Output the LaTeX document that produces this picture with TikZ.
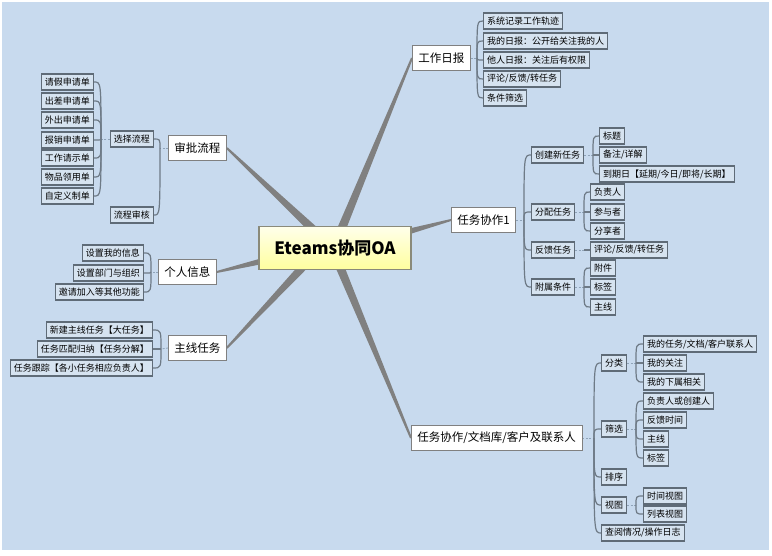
\documentclass[tikz,border=0pt]{standalone}
\usepackage{fontspec}
\setmainfont{Noto Sans CJK SC}
\usetikzlibrary{calc}
\definecolor{bgblue}{HTML}{C8DAEE}
\definecolor{leaffill}{HTML}{D6E3F0}
\definecolor{leafdraw}{HTML}{5F6B77}
\definecolor{brdraw}{HTML}{808080}
\definecolor{taperc}{HTML}{808080}
\definecolor{linkc}{HTML}{6E7A86}
\definecolor{dashc}{HTML}{8FA3B8}
\definecolor{rootdraw}{HTML}{8A8A7A}
\pgfdeclarelayer{bglayer}
\pgfsetlayers{bglayer,main}
\newcommand\mmtaper[2]{\fill[taperc] ($(#1)!4.5pt!90:(#2)$) -- ($(#2)!1pt!-90:(#1)$) -- ($(#2)!1pt!90:(#1)$) -- ($(#1)!4.5pt!-90:(#2)$) -- cycle;}
\tikzset{
  leaf/.style={draw=leafdraw, line width=1.1pt, fill=leaffill, font=\fontsize{9}{10}\selectfont, inner xsep=3.5pt, inner ysep=0pt, minimum height=16pt},
  lleaf/.style={leaf, anchor=east},
  rleaf/.style={leaf, anchor=west},
  branch/.style={draw=brdraw, line width=0.8pt, fill=white, font=\fontsize{11.5}{13}\selectfont, inner xsep=6pt, inner ysep=0pt, minimum height=25pt},
  rootbox/.style={draw=rootdraw, line width=1.1pt, top color=yellow!8!white, bottom color=yellow!38!white, font=\bfseries\fontsize{17}{20}\selectfont, minimum width=152pt, minimum height=43pt},
  dashlink/.style={draw=dashc, line width=0.8pt, dash pattern=on 2pt off 1.5pt},
  brlink/.style={draw=linkc, line width=1.2pt}
}
\begin{document}
\begin{tikzpicture}[x=1pt,y=-1pt]
\useasboundingbox (0,0) rectangle (772,555);
% root and main branches
\node[rootbox] (root) at (335,248) {Eteams协同OA};
\node[branch, anchor=west] (sp) at (168,148) {审批流程};
\node[branch, anchor=west] (gr) at (158,272) {个人信息};
\node[branch, anchor=west] (zx) at (168,348) {主线任务};
\node[branch, anchor=west] (rb) at (412,58) {工作日报};
\node[branch, anchor=west] (xz) at (451,220) {任务协作1};
\node[branch, anchor=west] (wd) at (411,438) {任务协作/文档库/客户及联系人};
% 审批流程
\node[lleaf] (xl) at (154,139) {选择流程};
\node[lleaf] (sh) at (154,215) {流程审核};
\node[lleaf] (a1) at (94,82) {请假申请单};
\node[lleaf] (a2) at (94,101) {出差申请单};
\node[lleaf] (a3) at (94,120) {外出申请单};
\node[lleaf] (a4) at (94,140) {报销申请单};
\node[lleaf] (a5) at (94,158) {工作请示单};
\node[lleaf] (a6) at (94,177) {物品领用单};
\node[lleaf] (a7) at (94,196) {自定义制单};
% 个人信息
\node[lleaf] (g1) at (144,253) {设置我的信息};
\node[lleaf] (g2) at (144,273) {设置部门与组织};
\node[lleaf] (g3) at (144,292) {邀请加入等其他功能};
% 主线任务
\node[lleaf] (z1) at (153,330) {新建主线任务【大任务】};
\node[lleaf] (z2) at (153,349) {任务匹配归纳【任务分解】};
\node[lleaf] (z3) at (153,368) {任务跟踪【各小任务相应负责人】};
% 工作日报
\node[rleaf] (r1) at (483,21) {系统记录工作轨迹};
\node[rleaf] (r2) at (483,41) {我的日报：公开给关注我的人};
\node[rleaf] (r3) at (483,60) {他人日报：关注后有权限};
\node[rleaf] (r4) at (483,79) {评论/反馈/转任务};
\node[rleaf] (r5) at (483,98) {条件筛选};
% 任务协作1
\node[rleaf] (x1) at (531,155) {创建新任务};
\node[rleaf] (x2) at (531,212) {分配任务};
\node[rleaf] (x3) at (531,250) {反馈任务};
\node[rleaf] (x4) at (531,287) {附属条件};
\node[rleaf] (c1) at (599,136) {标题};
\node[rleaf] (c2) at (599,155) {备注/详解};
\node[rleaf] (c3) at (599,174) {到期日【延期/今日/即将/长期】};
\node[rleaf] (f1) at (590,192) {负责人};
\node[rleaf] (f2) at (590,212) {参与者};
\node[rleaf] (f3) at (590,231) {分享者};
\node[rleaf] (k1) at (590,250) {评论/反馈/转任务};
\node[rleaf] (m1) at (590,268) {附件};
\node[rleaf] (m2) at (590,287) {标签};
\node[rleaf] (m3) at (590,307) {主线};
% 任务协作/文档库
\node[rleaf] (w1) at (601,363) {分类};
\node[rleaf] (w2) at (601,429) {筛选};
\node[rleaf] (w3) at (601,477) {排序};
\node[rleaf] (w4) at (601,505) {视图};
\node[rleaf] (w5) at (601,533) {查阅情况/操作日志};
\node[rleaf] (p1) at (643,344) {我的任务/文档/客户联系人};
\node[rleaf] (p2) at (643,363) {我的关注};
\node[rleaf] (p3) at (643,382) {我的下属相关};
\node[rleaf] (s1) at (643,401) {负责人或创建人};
\node[rleaf] (s2) at (643,420) {反馈时间};
\node[rleaf] (s3) at (643,439) {主线};
\node[rleaf] (s4) at (643,458) {标签};
\node[rleaf] (v1) at (643,496) {时间视图};
\node[rleaf] (v2) at (643,514) {列表视图};
% junctions and taper origins
\coordinate (jsp) at (160,148);
\coordinate (jxl) at (101,139);
\coordinate (jgr) at (151,272);
\coordinate (jzx) at (161,349);
\coordinate (jrb) at (477,58);
\coordinate (jxz) at (524,220);
\coordinate (jx1) at (593,155);
\coordinate (jx2) at (584,212);
\coordinate (jx3) at (584,250);
\coordinate (jx4) at (584,287);
\coordinate (jwd) at (594,438);
\coordinate (jw1) at (636,363);
\coordinate (jw2) at (636,429);
\coordinate (jw4) at (636,505);
\coordinate (osp) at (320,236);
\coordinate (ogr) at (300,252);
\coordinate (ozx) at (315,254);
\coordinate (orb) at (337,240);
\coordinate (oxz) at (370,242);
\coordinate (owd) at (335,255);
\begin{pgfonlayer}{bglayer}
\fill[white] (0,0) rectangle (772,555);
\fill[bgblue] (2,2) rectangle (769,550);
\mmtaper{osp}{sp.east}
\mmtaper{ogr}{gr.east}
\mmtaper{ozx}{zx.east}
\mmtaper{orb}{rb.west}
\mmtaper{oxz}{xz.west}
\mmtaper{owd}{wd.west}
% left groups
\draw[dashlink] (sp.west) -- (jsp);
\foreach \c in {xl,sh} \draw[brlink] (jsp) .. controls (jsp |- \c.east) .. (\c.east);
\draw[dashlink] (xl.west) -- (jxl);
\foreach \c in {a1,a2,a3,a4,a5,a6,a7} \draw[brlink] (jxl) .. controls (jxl |- \c.east) .. (\c.east);
\draw[dashlink] (gr.west) -- (jgr);
\foreach \c in {g1,g2,g3} \draw[brlink] (jgr) .. controls (jgr |- \c.east) .. (\c.east);
\draw[dashlink] (zx.west) -- (jzx);
\foreach \c in {z1,z2,z3} \draw[brlink] (jzx) .. controls (jzx |- \c.east) .. (\c.east);
% right groups
\draw[dashlink] (rb.east) -- (jrb);
\foreach \c in {r1,r2,r3,r4,r5} \draw[brlink] (jrb) .. controls (jrb |- \c.west) .. (\c.west);
\draw[dashlink] (xz.east) -- (jxz);
\foreach \c in {x1,x2,x3,x4} \draw[brlink] (jxz) .. controls (jxz |- \c.west) .. (\c.west);
\draw[dashlink] (x1.east) -- (jx1);
\foreach \c in {c1,c2,c3} \draw[brlink] (jx1) .. controls (jx1 |- \c.west) .. (\c.west);
\draw[dashlink] (x2.east) -- (jx2);
\foreach \c in {f1,f2,f3} \draw[brlink] (jx2) .. controls (jx2 |- \c.west) .. (\c.west);
\draw[dashlink] (x3.east) -- (jx3);
\draw[brlink] (jx3) -- (k1.west);
\draw[dashlink] (x4.east) -- (jx4);
\foreach \c in {m1,m2,m3} \draw[brlink] (jx4) .. controls (jx4 |- \c.west) .. (\c.west);
\draw[dashlink] (wd.east) -- (jwd);
\foreach \c in {w1,w2,w3,w4,w5} \draw[brlink] (jwd) .. controls (jwd |- \c.west) .. (\c.west);
\draw[dashlink] (w1.east) -- (jw1);
\foreach \c in {p1,p2,p3} \draw[brlink] (jw1) .. controls (jw1 |- \c.west) .. (\c.west);
\draw[dashlink] (w2.east) -- (jw2);
\foreach \c in {s1,s2,s3,s4} \draw[brlink] (jw2) .. controls (jw2 |- \c.west) .. (\c.west);
\draw[dashlink] (w4.east) -- (jw4);
\foreach \c in {v1,v2} \draw[brlink] (jw4) .. controls (jw4 |- \c.west) .. (\c.west);
\end{pgfonlayer}
\end{tikzpicture}
\end{document}
